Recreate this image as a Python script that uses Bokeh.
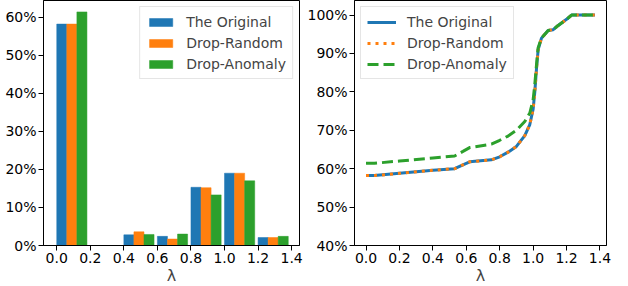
from bokeh.plotting import figure
from bokeh.layouts import row
from bokeh.models import FixedTicker, PrintfTickFormatter, Range1d, Legend, LegendItem, ColumnDataSource
from bokeh.embed import file_html
from bokeh.resources import INLINE

# ---- data ----
bin_left = [0.0, 0.4, 0.6, 0.8, 1.0, 1.2]
hist_original = [58.2, 2.8, 2.4, 15.3, 19.0, 2.1]
hist_random = [58.2, 3.6, 1.7, 15.2, 19.0, 2.1]
hist_anomaly = [61.4, 2.9, 3.0, 13.3, 17.0, 2.4]

cdf_lambda = [0.0, 0.05, 0.2, 0.4, 0.53, 0.58, 0.62, 0.75, 0.8, 0.85, 0.9, 0.95, 0.98,
              1.0, 1.01, 1.02, 1.03, 1.05, 1.09, 1.12, 1.15, 1.2, 1.23, 1.37]
cdf_original = [58.2, 58.2, 58.8, 59.6, 60.0, 61.0, 61.8, 62.3, 63.1, 64.3, 65.8, 68.6, 71.5,
                75.5, 80.0, 86.0, 91.0, 94.0, 96.0, 96.2, 97.3, 98.9, 100.0, 100.0]
cdf_random = [58.2, 58.2, 58.8, 59.6, 60.0, 61.0, 61.8, 62.3, 63.1, 64.3, 65.8, 68.6, 71.5,
              75.5, 80.0, 86.0, 91.0, 94.0, 96.0, 96.2, 97.3, 98.9, 100.0, 100.0]
cdf_anomaly = [61.4, 61.4, 62.0, 62.8, 63.3, 64.5, 65.5, 66.4, 67.4, 68.5, 70.0, 72.3, 74.5,
               78.0, 82.0, 87.0, 91.5, 94.0, 96.0, 96.2, 97.3, 98.9, 100.0, 100.0]

names = ["The Original", "Drop-Random", "Drop-Anomaly"]
colors = ["#1f77b4", "#ff7f0e", "#2ca02c"]
x_ticks = [0.0, 0.2, 0.4, 0.6, 0.8, 1.0, 1.2, 1.4]

BAR_W = 0.06
FONT = "DejaVu Sans"
H = 287


def style(p, yticks):
    p.outline_line_color = "black"
    p.outline_line_width = 1
    p.xgrid.visible = False
    p.ygrid.visible = False
    for ax in (p.xaxis[0], p.yaxis[0]):
        ax.major_tick_in = 0
        ax.major_tick_out = 5
        ax.minor_tick_line_color = None
        ax.axis_line_color = "black"
        ax.major_tick_line_color = "black"
        ax.major_label_text_font = FONT
        ax.major_label_text_font_size = "14px"
        ax.major_label_text_color = "black"
        ax.major_label_standoff = 2
    p.xaxis[0].ticker = FixedTicker(ticks=x_ticks)
    p.xaxis[0].formatter = PrintfTickFormatter(format="%.1f")
    p.yaxis[0].ticker = FixedTicker(ticks=yticks)
    p.yaxis[0].formatter = PrintfTickFormatter(format="%d%%")
    p.xaxis[0].axis_label = "λ"
    p.xaxis[0].axis_label_text_font = FONT
    p.xaxis[0].axis_label_text_font_size = "16px"
    p.xaxis[0].axis_label_text_font_style = "normal"
    p.xaxis[0].axis_label_standoff = 0


def legend(p, items, loc):
    lg = Legend(items=items, location=loc)
    lg.label_text_font = FONT
    lg.label_text_font_size = "14px"
    lg.glyph_width = 29
    lg.glyph_height = 10
    lg.label_height = 17
    lg.spacing = 4
    lg.padding = 6
    lg.margin = 6
    lg.label_standoff = 11
    lg.border_line_color = "#cccccc"
    lg.border_line_width = 1
    lg.background_fill_alpha = 0.8
    p.add_layout(lg, "center")


# ---- left: histogram ----
p1 = figure(width=304, height=H, output_backend="svg", toolbar_location=None,
            x_range=Range1d(-0.079, 1.447), y_range=Range1d(0, 64.4),
            min_border_left=43, min_border_right=5, min_border_top=0, min_border_bottom=40)
style(p1, [0, 10, 20, 30, 40, 50, 60])
items1 = []
for k, (vals, c, n) in enumerate(zip([hist_original, hist_random, hist_anomaly], colors, names)):
    src = ColumnDataSource(dict(x=[b + BAR_W * (k + 0.5) for b in bin_left], top=vals))
    r = p1.vbar(x="x", top="top", bottom=0, width=BAR_W, source=src,
                fill_color=c, line_color=c, line_width=0.5)
    items1.append(LegendItem(label=n, renderers=[r]))
legend(p1, items1, "top_right")

# ---- right: cumulative ----
p2 = figure(width=308, height=H, output_backend="svg", toolbar_location=None,
            x_range=Range1d(-0.069, 1.439), y_range=Range1d(40, 103.8),
            min_border_left=47, min_border_right=6, min_border_top=0, min_border_bottom=40)
style(p2, [40, 50, 60, 70, 80, 90, 100])
r1 = p2.line(cdf_lambda, cdf_original, line_color=colors[0], line_width=3)
r2 = p2.line(cdf_lambda, cdf_random, line_color=colors[1], line_width=3, line_dash="3 5")
r3 = p2.line(cdf_lambda, cdf_anomaly, line_color=colors[2], line_width=3, line_dash="11 5")
legend(p2, [LegendItem(label=names[0], renderers=[r1]),
            LegendItem(label=names[1], renderers=[r2]),
            LegendItem(label=names[2], renderers=[r3])], "top_left")

layout = row(p1, p2)
open("out.html", "w").write(file_html(layout, INLINE))
